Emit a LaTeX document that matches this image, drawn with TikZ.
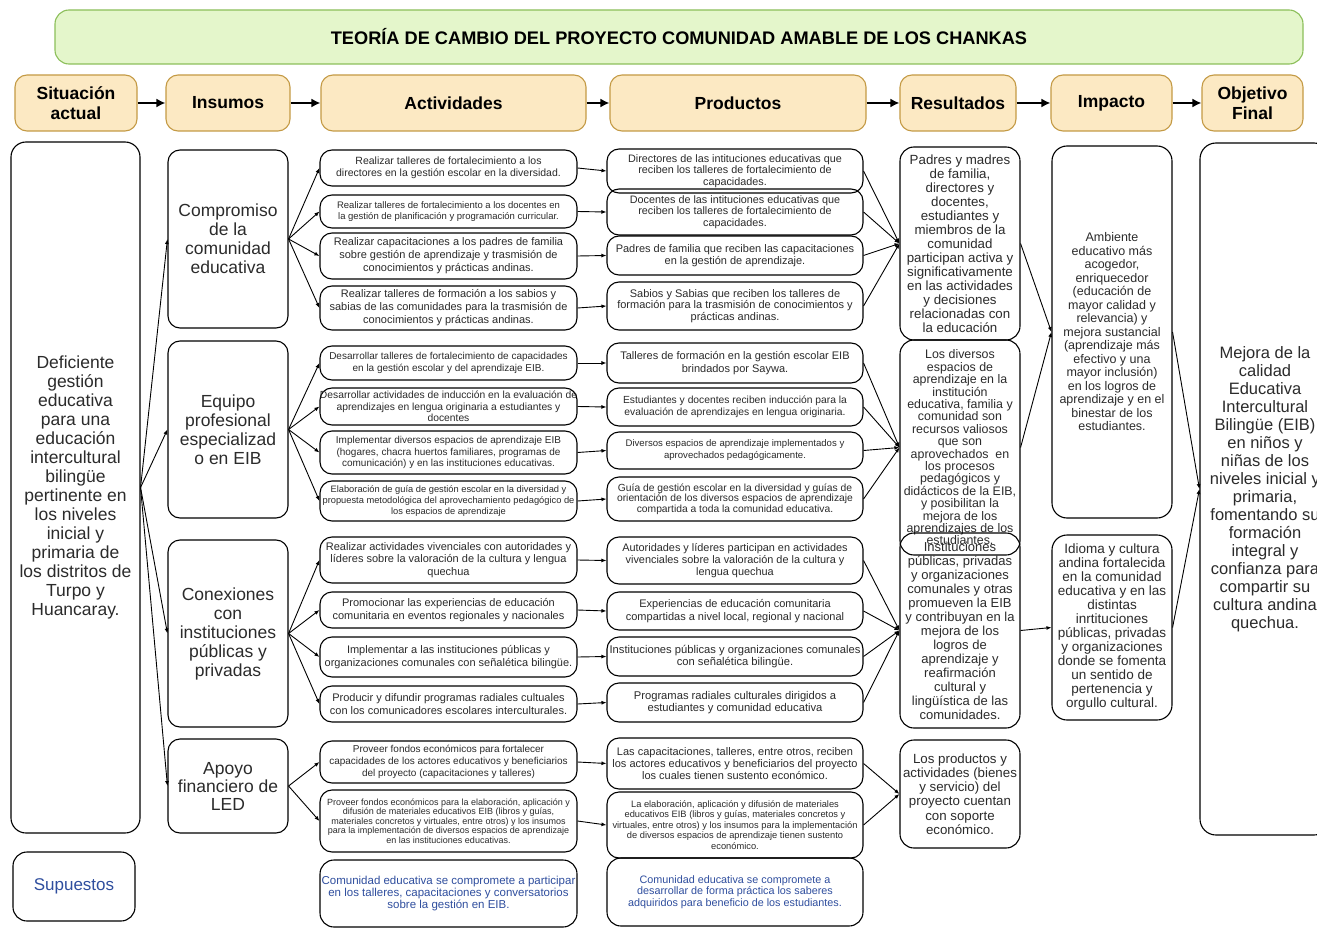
\documentclass[tikz,border=0pt]{standalone}
\usepackage{fontspec}
\setmainfont{Liberation Sans}
\usetikzlibrary{arrows.meta}
\definecolor{titlefill}{HTML}{E4F6CB}
\definecolor{titleline}{HTML}{8CBF5A}
\definecolor{headfill}{HTML}{FCE9C3}
\definecolor{headline}{HTML}{C49A45}
\definecolor{txt}{HTML}{2B2B2B}
\definecolor{supblue}{HTML}{2F4E9E}
\newcommand\fs[2]{\fontsize{#1}{#2}\selectfont}
% rounded box given by its corners (x1,y1) and (x2,y2) in pixel units
\newcommand\boxnode[7][]{\node[box,minimum width={(#5-#3)*1pt},minimum height={(#6-#4)*1pt},#1] (#2) at ({(#3+#5)/2},{(#4+#6)/2}) {#7};}
\begin{document}
\begin{tikzpicture}[x=1pt,y=-1pt,
  box/.style={draw=black,line width=1.1pt,rounded corners=12pt,inner sep=0pt,align=center,text=txt},
  head/.style={box,draw=headline,fill=headfill,text=black,font=\bfseries\fs{17.5}{20}},
  sup/.style={text=supblue},
  link/.style={-{Latex[length=5pt,width=4pt]},line width=0.9pt},
  bigarrow/.style={-{Latex[length=9pt,width=9pt]},line width=2.2pt}]
\clip (0,0) rectangle (1317,928);
\fill[white] (0,0) rectangle (1317,928);

% title banner
\boxnode[draw=titleline,fill=titlefill,text=black,font=\bfseries\fs{18.2}{20},rounded corners=14pt]{title}{55}{10}{1303}{64}{TEORÍA DE CAMBIO DEL PROYECTO COMUNIDAD AMABLE DE LOS CHANKAS}

% column headers
\boxnode[head]{h1}{15}{75}{137}{131}{Situación\\actual}
\boxnode[head]{h2}{166}{75}{290}{131}{Insumos}
\boxnode[head]{h3}{321}{75}{586}{131}{Actividades}
\boxnode[head]{h4}{610}{75}{866}{131}{Productos}
\boxnode[head]{h5}{900}{75}{1016}{131}{Resultados}
\boxnode[head]{h6}{1051}{75}{1172}{131}{Impacto}
\boxnode[head]{h7}{1202}{75}{1303}{131}{Objetivo\\Final}
\foreach \a/\b in {h1/h2,h2/h3,h3/h4,h4/h5,h5/h6,h6/h7}
  \draw[bigarrow] (\a.east) -- (\b.west);

% current situation and assumptions
\boxnode[font=\fs{17.5}{19},rounded corners=15pt]{sit}{11}{142}{140}{833}{Deficiente\\gestión\\educativa\\para una\\educación\\intercultural\\bilingüe\\pertinente en\\los niveles\\inicial y\\primaria de\\los distritos de\\Turpo y\\Huancaray.}
\boxnode[font=\fs{17}{19},sup,rounded corners=14pt]{supuestos}{13}{852}{135}{921}{Supuestos}

% inputs
\boxnode[font=\fs{17.5}{19}]{ins1}{168}{150}{288}{328}{Compromiso\\de la\\comunidad\\educativa}
\boxnode[font=\fs{17.5}{19}]{ins2}{168}{341}{288}{518}{Equipo\\profesional\\especializad\\o en EIB}
\boxnode[font=\fs{17.5}{19}]{ins3}{168}{540}{288}{727}{Conexiones\\con\\instituciones\\públicas y\\privadas}
\boxnode[font=\fs{17.5}{18}]{ins4}{168}{739}{288}{833}{Apoyo\\financiero de\\LED}

% activities
\boxnode[font=\fs{10.5}{12.5}]{a1}{320}{150}{577}{186}{Realizar talleres de fortalecimiento a los\\directores en la gestión escolar en la diversidad.}
\boxnode[font=\fs{9.5}{11.5}]{a2}{320}{195}{577}{228}{Realizar talleres de fortalecimiento a los docentes en\\la gestión de planificación y programación curricular.}
\boxnode[font=\fs{11}{13}]{a3}{320}{233}{577}{279}{Realizar capacitaciones a los padres de familia\\sobre gestión de aprendizaje y trasmisión de\\conocimientos y prácticas andinas.}
\boxnode[font=\fs{11}{13}]{a4}{320}{286}{577}{330}{Realizar talleres de formación a los sabios y\\sabias de las comunidades para la trasmisión de\\conocimientos y prácticas andinas.}
\boxnode[font=\fs{10}{12}]{a5}{320}{346}{577}{380}{Desarrollar talleres de fortalecimiento de capacidades\\en la gestión escolar y del aprendizaje EIB.}
\boxnode[font=\fs{10.3}{11.5}]{a6}{320}{388}{577}{425}{Desarrollar actividades de inducción en la evaluación de\\aprendizajes en lengua originaria a estudiantes y\\docentes}
\boxnode[font=\fs{10}{11.5}]{a7}{320}{431}{577}{474}{Implementar diversos espacios de aprendizaje EIB\\(hogares, chacra huertos familiares, programas de\\comunicación) y en las instituciones educativas.}
\boxnode[font=\fs{9.3}{11}]{a8}{320}{481}{577}{521}{Elaboración de guía de gestión escolar en la diversidad y\\propuesta metodológica del aprovechamiento pedagógico de\\los espacios de aprendizaje}
\boxnode[font=\fs{11}{12.5}]{a9}{320}{537}{577}{583}{Realizar actividades vivenciales con autoridades y\\líderes sobre la valoración de la cultura y lengua\\quechua}
\boxnode[font=\fs{11}{12.5}]{a10}{320}{592}{577}{628}{Promocionar las experiencias de educación\\comunitaria en eventos regionales y nacionales}
\boxnode[font=\fs{11}{12.5}]{a11}{320}{637}{577}{677}{Implementar a las instituciones públicas y\\organizaciones comunales con señalética bilingüe.}
\boxnode[font=\fs{11}{12.5}]{a12}{320}{686}{577}{722}{Producir y difundir programas radiales cultuales\\con los comunicadores escolares interculturales.}
\boxnode[font=\fs{10}{12}]{a13}{320}{741}{577}{783}{Proveer fondos económicos para fortalecer\\capacidades de los actores educativos y beneficiarios\\del proyecto (capacitaciones y talleres)}
\boxnode[font=\fs{9}{9.6}]{a14}{320}{790}{577}{852}{Proveer fondos económicos para la elaboración, aplicación y\\difusión de materiales educativos EIB (libros y guías,\\materiales concretos y virtuales, entre otros) y los insumos\\para la implementación de diversos espacios de aprendizaje\\en las instituciones educativas.}
\boxnode[font=\fs{11.5}{12.2},sup,rounded corners=14pt]{supa}{320}{860}{577}{927}{Comunidad educativa se compromete a participar\\en los talleres, capacitaciones y conversatorios\\sobre la gestión en EIB.}

% products
\boxnode[font=\fs{10.8}{11.7}]{p1}{607}{149}{863}{193}{Directores de las intituciones educativas que\\reciben los talleres de fortalecimiento de\\capacidades.}
\boxnode[font=\fs{10.8}{11.7}]{p2}{607}{189}{863}{235}{Docentes de las intituciones educativas que\\reciben los talleres de fortalecimiento de\\capacidades.}
\boxnode[font=\fs{11}{12.3}]{p3}{607}{236}{863}{275}{Padres de familia que reciben las capacitaciones\\en la gestión de aprendizaje.}
\boxnode[font=\fs{11}{11.7}]{p4}{607}{282}{863}{330}{Sabios y Sabias que reciben los talleres de\\formación para la trasmisión de conocimientos y\\prácticas andinas.}
\boxnode[font=\fs{11}{12.3}]{p5}{607}{343}{863}{383}{Talleres de formación en la gestión escolar EIB\\brindados por Saywa.}
\boxnode[font=\fs{10.3}{12}]{p6}{607}{388}{863}{426}{Estudiantes y docentes reciben inducción para la\\evaluación de aprendizajes en lengua originaria.}
\boxnode[font=\fs{9.6}{12}]{p7}{607}{432}{863}{469}{Diversos espacios de aprendizaje implementados y\\aprovechados pedagógicamente.}
\boxnode[font=\fs{10.3}{10.5}]{p8}{607}{477}{863}{521}{Guía de gestión escolar en la diversidad y guías de\\orientación de los diversos espacios de aprendizaje\\compartida a toda la comunidad educativa.}
\boxnode[font=\fs{10.9}{11.7}]{p9}{607}{537}{863}{584}{Autoridades y líderes participan en actividades\\vivenciales sobre la valoración de la cultura y\\lengua quechua}
\boxnode[font=\fs{11}{12.3}]{p10}{607}{592}{863}{630}{Experiencias de educación comunitaria\\compartidas a nivel local, regional y nacional}
\boxnode[font=\fs{11.2}{12.3}]{p11}{607}{637}{863}{676}{Instituciones públicas y organizaciones comunales\\con señalética bilingüe.}
\boxnode[font=\fs{11.2}{12.3}]{p12}{607}{683}{863}{722}{Programas radiales culturales dirigidos a\\estudiantes y comunidad educativa}
\boxnode[font=\fs{11}{12.2}]{p13}{607}{738}{863}{789}{Las capacitaciones, talleres, entre otros, reciben\\los actores educativos y beneficiarios del proyecto\\los cuales tienen sustento económico.}
\boxnode[font=\fs{9.3}{10.4}]{p14}{607}{792}{863}{858}{La elaboración, aplicación y difusión de materiales\\educativos EIB (libros y guías, materiales concretos y\\virtuales, entre otros) y los insumos para la implementación\\de diversos espacios de aprendizaje tienen sustento\\económico.}
\boxnode[font=\fs{10.8}{11.7},sup,rounded corners=14pt]{supb}{607}{858}{863}{926}{Comunidad educativa se compromete a\\desarrollar de forma práctica los saberes\\adquiridos para beneficio de los estudiantes.}

% results
\boxnode[font=\fs{13.3}{14},rounded corners=14pt]{r1}{900}{147}{1020}{340}{Padres y madres\\de familia,\\directores y\\docentes,\\estudiantes y\\miembros de la\\comunidad\\participan activa y\\significativamente\\en las actividades\\y decisiones\\relacionadas con\\la educación}
\boxnode[font=\fs{12.4}{12.4},rounded corners=14pt]{r2}{900}{340}{1020}{555}{Los diversos\\espacios de\\aprendizaje en la\\institución\\educativa, familia y\\comunidad son\\recursos valiosos\\que son\\aprovechados~ en\\los procesos\\pedagógicos y\\didácticos de la EIB,\\y posibilitan la\\mejora de los\\aprendizajes de los\\estudiantes.}
\boxnode[font=\fs{13}{14},rounded corners=14pt]{r3}{900}{533}{1020}{728}{Instituciones\\públicas, privadas\\y organizaciones\\comunales y otras\\promueven la EIB\\y contribuyan en la\\mejora de los\\logros de\\aprendizaje y\\reafirmación\\cultural y\\lingüística de las\\comunidades.}
\boxnode[font=\fs{13.3}{14.2},rounded corners=14pt]{r4}{900}{740}{1020}{848}{Los productos y\\actividades (bienes\\y servicio) del\\proyecto cuentan\\con soporte\\económico.}

% impact
\boxnode[font=\fs{12.5}{13.5},rounded corners=15pt]{i1}{1052}{146}{1172}{518}{Ambiente\\educativo más\\acogedor,\\enriquecedor\\(educación de\\mayor calidad y\\relevancia) y\\mejora sustancial\\(aprendizaje más\\efectivo y una\\mayor inclusión)\\en los logros de\\aprendizaje y en el\\binestar de los\\estudiantes.}
\boxnode[font=\fs{13.5}{14},rounded corners=15pt]{i2}{1052}{535}{1172}{720}{Idioma y cultura\\andina fortalecida\\en la comunidad\\educativa y en las\\distintas\\inrtituciones\\públicas, privadas\\y organizaciones\\donde se fomenta\\un sentido de\\pertenencia y\\orgullo cultural.}

% final objective
\boxnode[font=\fs{16.5}{18},rounded corners=16pt]{obj}{1200}{143}{1330}{835}{Mejora de la\\calidad\\Educativa\\Intercultural\\Bilingüe (EIB)\\en niños y\\niñas de los\\niveles inicial y\\primaria,\\fomentando su\\formación\\integral y\\confianza para\\compartir su\\cultura andina\\quechua.}

% connectors
\foreach \k in {ins1,ins2,ins3,ins4}
  \draw[link] (sit.east) -- (\k.west);
\foreach \k in {a1,a2,a3,a4} \draw[link] (ins1.east) -- (\k.west);
\foreach \k in {a5,a6,a7,a8} \draw[link] (ins2.east) -- (\k.west);
\foreach \k in {a9,a10,a11,a12} \draw[link] (ins3.east) -- (\k.west);
\foreach \k in {a13,a14} \draw[link] (ins4.east) -- (\k.west);
\foreach \k in {1,...,14} \draw[link] (a\k.east) -- (p\k.west);
\foreach \k in {p1,p2,p3,p4} \draw[link] (\k.east) -- (r1.west);
\foreach \k in {p5,p6,p7,p8} \draw[link] (\k.east) -- (r2.west);
\foreach \k in {p9,p10,p11,p12} \draw[link] (\k.east) -- (r3.west);
\foreach \k in {p13,p14} \draw[link] (\k.east) -- (r4.west);
\draw[link] (r1.east) -- (i1.west);
\draw[link] (r2.east) -- (i1.west);
\draw[link] (r3.east) -- (i2.west);
\draw[link] (i1.east) -- (obj.west);
\draw[link] (i2.east) -- (obj.west);
\end{tikzpicture}
\end{document}
